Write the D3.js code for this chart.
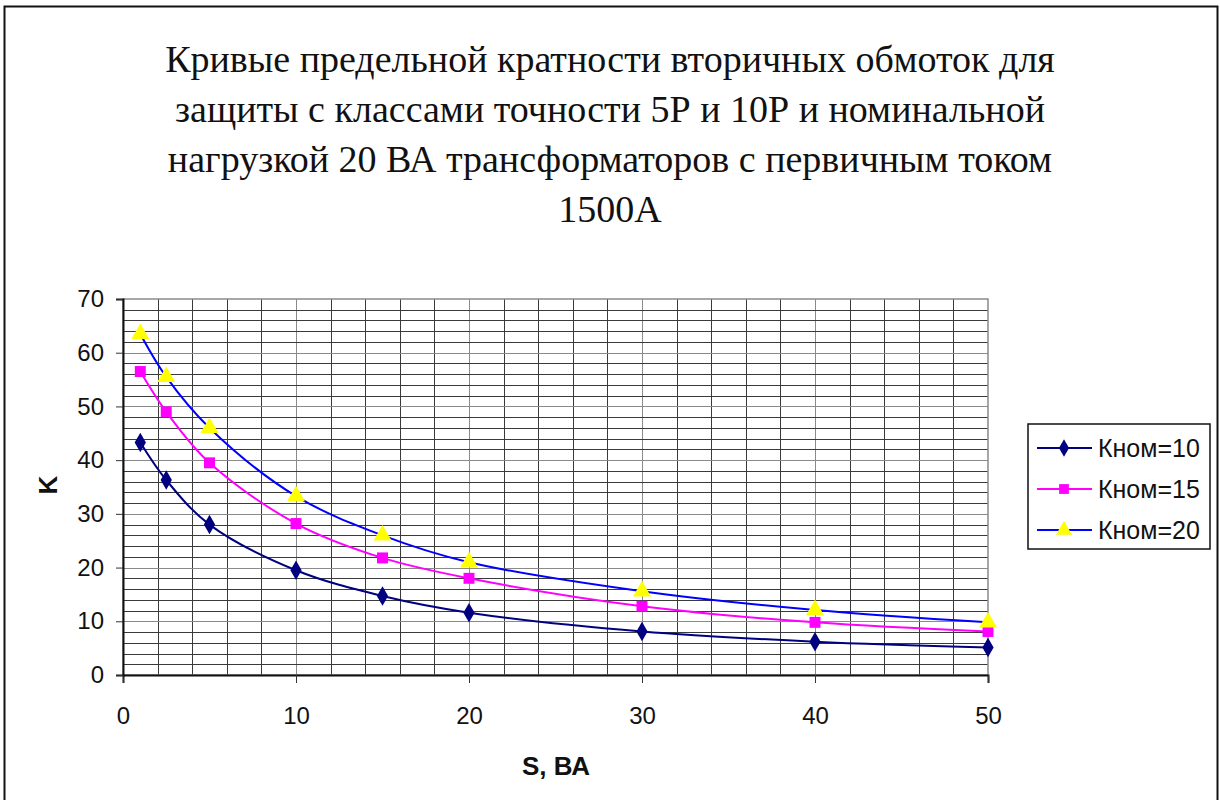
<!DOCTYPE html>
<html>
<head>
<meta charset="utf-8">
<script src="https://cdn.jsdelivr.net/npm/d3@7"></script>
<style>
  body { margin: 0; background: #fff; }
  svg { display: block; }
</style>
</head>
<body>
<div id="chart"></div>
<script>
// data
var sValues = [1, 2.5, 5, 10, 15, 20, 30, 40, 50];
var k10 = [43.3, 36.3, 28, 19.5, 14.7, 11.6, 8.1, 6.2, 5.1];
var k15 = [56.5, 49, 39.5, 28.2, 21.8, 18, 12.8, 9.8, 8.1];
var k20 = [63.5, 55.5, 46, 33.3, 26, 21, 15.6, 12.1, 9.8];
var seriesNames = ['Кном=10', 'Кном=15', 'Кном=20'];
var xTicks = [0, 10, 20, 30, 40, 50];
var yTicks = [0, 10, 20, 30, 40, 50, 60, 70];
var titleLines = [
  'Кривые предельной кратности вторичных обмоток для',
  'защиты с классами точности 5Р и 10Р и номинальной',
  'нагрузкой 20 ВА трансформаторов с первичным током',
  '1500А'
];

var W = 1220, H = 800;
var plot = { left: 123, top: 299, right: 988, bottom: 675 };

var svg = d3.select('#chart').append('svg')
  .attr('width', W)
  .attr('height', H);

// outer frame
svg.append('rect')
  .attr('x', 4.5).attr('y', 6.5)
  .attr('width', 1213).attr('height', 800)
  .attr('fill', 'none')
  .attr('stroke', '#111')
  .attr('stroke-width', 2);

// title
svg.append('g').selectAll('text')
  .data(titleLines)
  .enter().append('text')
  .attr('x', 610)
  .attr('y', function(d, i) { return 72 + i * 50 })
  .attr('text-anchor', 'middle')
  .style('font-family', '"Liberation Serif", "Times New Roman", serif')
  .style('font-size', '38px')
  .attr('fill', '#111')
  .text(function(d) { return d });

var x = d3.scaleLinear().domain([0, 50]).range([plot.left, plot.right]);
var y = d3.scaleLinear().domain([0, 70]).range([plot.bottom, plot.top]);

// grid
var grid = svg.append('g');
grid.selectAll('.vgrid')
  .data(d3.range(2, 50, 2))
  .enter().append('line')
  .attr('class', 'vgrid')
  .attr('x1', function(d) { return Math.round(x(d)) + 0.5 })
  .attr('x2', function(d) { return Math.round(x(d)) + 0.5 })
  .attr('y1', plot.top)
  .attr('y2', plot.bottom)
  .attr('stroke', function(d) { return d % 10 === 0 ? '#8a8a8a' : '#3a3a3a' })
  .attr('stroke-width', 1);

grid.selectAll('.hgrid')
  .data(d3.range(2, 70, 2))
  .enter().append('line')
  .attr('class', 'hgrid')
  .attr('x1', plot.left)
  .attr('x2', plot.right)
  .attr('y1', function(d) { return Math.round(y(d)) + 0.5 })
  .attr('y2', function(d) { return Math.round(y(d)) + 0.5 })
  .attr('stroke', function(d) { return d % 10 === 0 ? '#8a8a8a' : '#3a3a3a' })
  .attr('stroke-width', 1);

// plot border
svg.append('rect')
  .attr('x', plot.left).attr('y', plot.top)
  .attr('width', plot.right - plot.left)
  .attr('height', plot.bottom - plot.top)
  .attr('fill', 'none')
  .attr('stroke', '#8a8a8a')
  .attr('stroke-width', 1.5);

// axes
var xAxis = svg.append('g')
  .attr('transform', 'translate(0,' + plot.bottom + ')')
  .call(d3.axisBottom(x).tickValues(xTicks).tickSize(8).tickPadding(24));
var yAxis = svg.append('g')
  .attr('transform', 'translate(' + plot.left + ',0)')
  .call(d3.axisLeft(y).tickValues(yTicks).tickSize(7).tickPadding(12));

[xAxis, yAxis].forEach(function(a) {
  a.select('.domain').attr('stroke', '#111').attr('stroke-width', 2);
  a.selectAll('.tick line').attr('stroke', '#333');
  a.selectAll('.tick text')
    .style('font-family', '"Liberation Sans", Arial, sans-serif')
    .style('font-size', '24px')
    .attr('fill', '#111');
});

// axis titles
svg.append('text')
  .attr('transform', 'translate(57,485) rotate(-90)')
  .attr('text-anchor', 'middle')
  .style('font-family', '"Liberation Sans", Arial, sans-serif')
  .style('font-size', '26px')
  .style('font-weight', 'bold')
  .attr('fill', '#111')
  .text('K');

svg.append('text')
  .attr('x', 556)
  .attr('y', 775)
  .attr('text-anchor', 'middle')
  .style('font-family', '"Liberation Sans", Arial, sans-serif')
  .style('font-size', '26px')
  .style('font-weight', 'bold')
  .attr('fill', '#111')
  .text('S, ВА');

// series
var series = [
  { name: seriesNames[0], values: k10, line: '#000080', fill: '#000080', shape: d3.symbolDiamond, size: 110 },
  { name: seriesNames[1], values: k15, line: '#ff00ff', fill: '#ff00ff', shape: d3.symbolSquare, size: 120 },
  { name: seriesNames[2], values: k20, line: '#0000ff', fill: '#ffff00', shape: d3.symbolTriangle, size: 140 }
];

var line = d3.line()
  .x(function(d) { return x(d[0]) })
  .y(function(d) { return y(d[1]) })
  .curve(d3.curveCatmullRom.alpha(0.5));

series.forEach(function(s) {
  var pts = sValues.map(function(v, i) { return [v, s.values[i]] });
  svg.append('path')
    .datum(pts)
    .attr('d', line)
    .attr('fill', 'none')
    .attr('stroke', s.line)
    .attr('stroke-width', 2);
  svg.append('g').selectAll('path')
    .data(pts)
    .enter().append('path')
    .attr('transform', function(d) { return 'translate(' + x(d[0]) + ',' + y(d[1]) + ')' })
    .attr('d', d3.symbol().type(s.shape).size(s.size))
    .attr('fill', s.fill);
});

// legend
var legend = svg.append('g');
legend.append('rect')
  .attr('x', 1028).attr('y', 424)
  .attr('width', 182).attr('height', 125)
  .attr('fill', '#fff')
  .attr('stroke', '#111')
  .attr('stroke-width', 1.5);

var items = legend.selectAll('.item')
  .data(series)
  .enter().append('g')
  .attr('class', 'item')
  .attr('transform', function(d, i) { return 'translate(0,' + (448 + i * 41) + ')' });

items.append('line')
  .attr('x1', 1037).attr('x2', 1092)
  .attr('y1', 0).attr('y2', 0)
  .attr('stroke', function(d) { return d.line })
  .attr('stroke-width', 2);
items.append('path')
  .attr('transform', 'translate(1064,0)')
  .attr('d', function(d) { return d3.symbol().type(d.shape).size(d.size * 0.8)() })
  .attr('fill', function(d) { return d.fill });
items.append('text')
  .attr('x', 1098)
  .attr('y', 9)
  .style('font-family', '"Liberation Sans", Arial, sans-serif')
  .style('font-size', '25px')
  .attr('fill', '#111')
  .text(function(d) { return d.name });
</script>
</body>
</html>
